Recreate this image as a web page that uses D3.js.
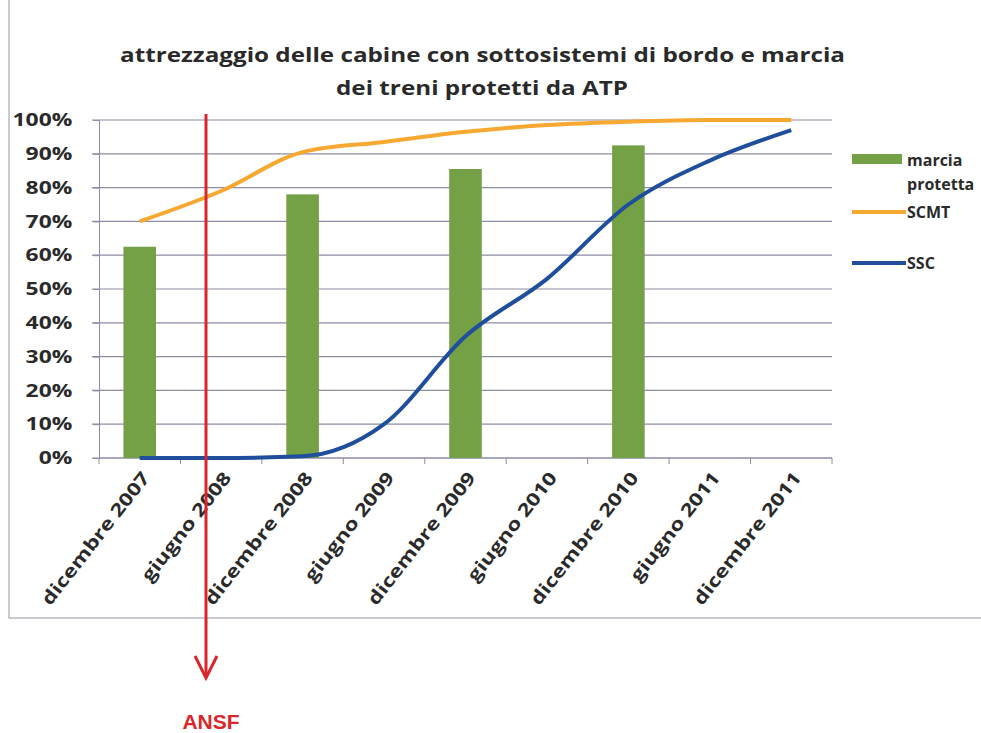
<!DOCTYPE html>
<meta charset="utf-8">
<script src="https://d3js.org/d3.v7.min.js"></script>
<style>
body { margin:0; background:#fff; }
svg { font-family: "Open Sans", Lato, sans-serif; }
</style>
<body></body>
<script>

// categories and series
var periodi = ["dicembre 2007","giugno 2008","dicembre 2008","giugno 2009","dicembre 2009",
               "giugno 2010","dicembre 2010","giugno 2011","dicembre 2011"];
var marcia = [62.5, null, 78, null, 85.5, null, 92.5, null, null];
var scmt   = [70, 79, 90.5, 93.5, 96.5, 98.5, 99.5, 100, 100];
var ssc    = [0, 0, 0.5, 10, 36, 53, 75, 88, 97];
var yTicks = [0,10,20,30,40,50,60,70,80,90,100];

var W = 981, H = 733;
var svg = d3.select('body').append('svg')
  .attr('width', W).attr('height', H);

// outer frame of the pasted chart
svg.append('path')
  .attr('d', 'M9,0 V618 H981')
  .attr('fill','none').attr('stroke','#b8b8c4').attr('stroke-width',1.5);

var x = d3.scaleBand().domain(periodi).range([99, 832]).paddingInner(0.6).paddingOuter(0.3);
var y = d3.scaleLinear().domain([0,100]).range([458,120]);
var cx = function(d){ return x(d) + x.bandwidth()/2; };

// title (source image is stretched horizontally)
var title = svg.append('g').attr('font-weight','bold').attr('font-size',20).attr('fill','#2a2a2a');
title.append('text').attr('x',120).attr('y',62).attr('textLength',725).attr('lengthAdjust','spacingAndGlyphs')
  .text('attrezzaggio delle cabine con sottosistemi di bordo e marcia');
title.append('text').attr('x',336).attr('y',95).attr('textLength',292).attr('lengthAdjust','spacingAndGlyphs')
  .text('dei treni protetti da ATP');

// gridlines
svg.append('g').selectAll('line').data(yTicks).enter().append('line')
  .attr('x1', 92).attr('x2', 832)
  .attr('y1', function(d){return y(d);}).attr('y2', function(d){return y(d);})
  .attr('stroke','#8c8ca6').attr('stroke-width',1.2);

// y axis
var yAxis = d3.axisLeft(y).tickValues(yTicks).tickFormat(function(d){return d+'%';}).tickSize(6);
var gy = svg.append('g').attr('transform','translate(99,0)').call(yAxis);
gy.select('.domain').attr('stroke','#8c8ca6');
gy.selectAll('.tick line').attr('stroke','#8c8ca6');
gy.selectAll('text').attr('font-size',18).attr('font-weight','bold').attr('fill','#2a2a2a')
  .attr('font-family','"Open Sans", sans-serif')
  .attr('x',-21).attr('transform','scale(1.27,1)');

// x axis
var gx = svg.append('g').attr('transform','translate(0,458)');
gx.append('line').attr('x1',99).attr('x2',832).attr('stroke','#8c8ca6').attr('stroke-width',1.2);
gx.selectAll('.xt').data(d3.range(periodi.length+1)).enter().append('line')
  .attr('x1',function(i){return x.range()[0] + i*x.step();})
  .attr('x2',function(i){return x.range()[0] + i*x.step();})
  .attr('y1',0).attr('y2',6).attr('stroke','#8c8ca6');
gx.selectAll('.xl').data(periodi).enter().append('text')
  .attr('transform',function(d){return 'translate('+(cx(d)+11)+',20) rotate(-52) scale(1.25,1)';})
  .attr('text-anchor','end').attr('font-size',18).attr('font-weight','bold')
  .attr('fill','#2a2a2a').text(function(d){return d;});

// bars
svg.append('g').selectAll('rect').data(periodi.map(function(p,i){return {p:p,v:marcia[i]};})
    .filter(function(d){return d.v!=null;}))
  .enter().append('rect')
  .attr('x',function(d){return x(d.p);}).attr('width',x.bandwidth())
  .attr('y',function(d){return y(d.v);}).attr('height',function(d){return y(0)-y(d.v);})
  .attr('fill','#74a046');

// lines
var line = d3.line().curve(d3.curveMonotoneX)
  .x(function(d){return cx(d.p);}).y(function(d){return y(d.v);});
svg.append('path').datum(periodi.map(function(p,i){return {p:p,v:scmt[i]};}))
  .attr('d',line).attr('fill','none').attr('stroke','#f7a830').attr('stroke-width',4);
svg.append('path').datum(periodi.map(function(p,i){return {p:p,v:ssc[i]};}))
  .attr('d',line).attr('fill','none').attr('stroke','#1f4f9c').attr('stroke-width',4);

// legend
var lg = svg.append('g').attr('font-size',16).attr('font-weight','bold').attr('fill','#2a2a2a');
lg.append('rect').attr('x',852).attr('y',154).attr('width',50).attr('height',10).attr('fill','#74a046');
lg.append('text').attr('x',907).attr('y',166).text('marcia');
lg.append('text').attr('x',907).attr('y',190).text('protetta');
lg.append('line').attr('x1',852).attr('x2',906).attr('y1',212).attr('y2',212)
  .attr('stroke','#f7a830').attr('stroke-width',4);
lg.append('text').attr('x',907).attr('y',218).text('SCMT');
lg.append('line').attr('x1',852).attr('x2',906).attr('y1',263).attr('y2',263)
  .attr('stroke','#1f4f9c').attr('stroke-width',4);
lg.append('text').attr('x',907).attr('y',269).text('SSC');

// ANSF arrow
var ax = 206;
svg.append('line').attr('x1',ax).attr('x2',ax).attr('y1',114).attr('y2',677)
  .attr('stroke','#d9262b').attr('stroke-width',3);
svg.append('path').attr('d','M'+(ax-11)+',656 L'+ax+',678 L'+(ax+11)+',656')
  .attr('fill','none').attr('stroke','#d9262b').attr('stroke-width',3);
svg.append('text').attr('x',ax+5).attr('y',729).attr('text-anchor','middle')
  .attr('font-family','"Liberation Sans Narrow", "Liberation Sans", sans-serif')
  .attr('font-weight','bold').attr('font-size',21).attr('fill','#d9262b').text('ANSF');
</script>
